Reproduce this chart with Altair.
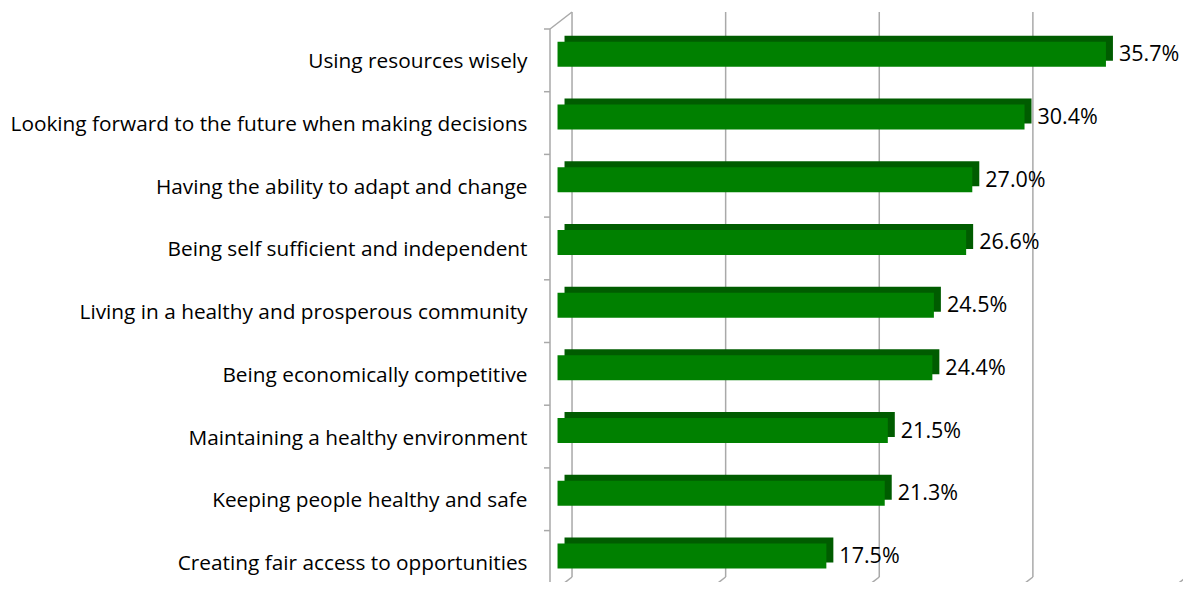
import altair as alt
import pandas as pd

categories = [
    "Using resources wisely",
    "Looking forward to the future when making decisions",
    "Having the ability to adapt and change",
    "Being self sufficient and independent",
    "Living in a healthy and prosperous community",
    "Being economically competitive",
    "Maintaining a healthy environment",
    "Keeping people healthy and safe",
    "Creating fair access to opportunities",
]
values = [35.7, 30.4, 27.0, 26.6, 24.5, 24.4, 21.5, 21.3, 17.5]
grid_values = [0, 10, 20, 30, 40]

df = pd.DataFrame({
    "item": categories,
    "value": values,
    "label": [f"{v:.1f}%" for v in values],
})
grid = pd.DataFrame({"g": grid_values})
one = pd.DataFrame({"k": [0]})

BAND = 62.7
FONT = "Open Sans"
GRID = "#a9a9a9"

yscale = alt.Scale(domain=categories, range=[0, 9 * BAND], paddingInner=0, paddingOuter=0)
xscale = alt.Scale(domain=[-0.49, 40], nice=False, zero=False)
yaxis = alt.Axis(title=None, ticks=False, domain=False, labelFont=FONT, labelFontSize=20.8,
                 labelColor="black", labelPadding=23, labelLimit=600, labelOffset=2)

def Y(**kw):
    return alt.Y("item:N", scale=yscale, sort=categories, axis=yaxis, **kw)

X = lambda f: alt.X(f, scale=xscale, axis=None)

# back wall gridlines
grid_back = alt.Chart(grid).mark_rule(color=GRID, strokeWidth=1.5, xOffset=14.5).encode(
    x=X("g:Q"), y=alt.value(-17), y2=alt.value(548)
)
# floor slants
grid_floor = alt.Chart(grid).mark_rule(color=GRID, strokeWidth=1.5, xOffset=14.5, x2Offset=-7.5).encode(
    x=X("g:Q"), x2="g:Q", y=alt.value(548), y2=alt.value(565)
)
# left wall front edge and top slant
wall_front = alt.Chart(one).mark_rule(color=GRID, strokeWidth=1.5).encode(
    x=alt.value(0), y=alt.value(0), y2=alt.value(565)
)
wall_top = alt.Chart(one).mark_rule(color=GRID, strokeWidth=1.5).encode(
    x=alt.value(0), x2=alt.value(22), y=alt.value(0), y2=alt.value(-17)
)
# category ticks at band boundaries
ticks = alt.Chart(df).mark_rule(color=GRID, strokeWidth=1.5).encode(
    y=Y(bandPosition=0), x=alt.value(-6), x2=alt.value(0)
)
# dark top/side of bars
bars_dark = alt.Chart(df).mark_bar(color="#005c00", size=25, xOffset=7, x2Offset=7, yOffset=-12).encode(
    y=Y(), x=X("value:Q")
)
# front face of bars
bars = alt.Chart(df).mark_bar(color="#008000", size=25, yOffset=-6).encode(
    y=Y(), x=X("value:Q")
)
labels = alt.Chart(df).mark_text(align="left", baseline="middle", dx=13, yOffset=-5,
                                 font=FONT, fontSize=21.5, color="black").encode(
    y=Y(), x=X("value:Q"), text="label:N"
)

chart = alt.layer(grid_back, grid_floor, wall_front, wall_top, ticks, bars_dark, bars, labels).properties(
    width=622, height=553,
    padding={"left": 542, "top": 21, "right": 11, "bottom": 0},
    autosize=alt.AutoSizeParams(type="none"),
    background="white",
).configure_view(stroke=None)

chart.save("out.html", embed_options={"renderer": "svg", "actions": False})
